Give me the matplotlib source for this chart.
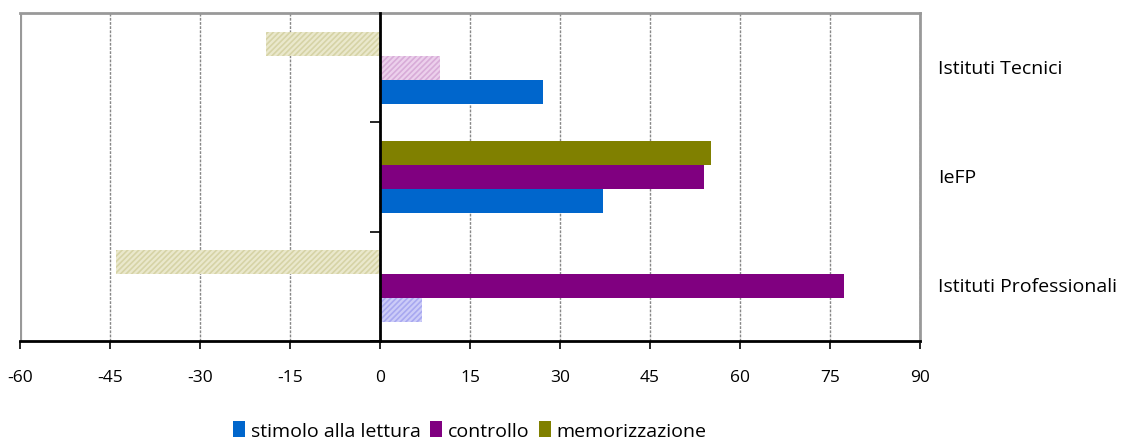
import matplotlib
matplotlib.use("Agg")
from matplotlib import pyplot as plt
from matplotlib.patches import Patch
from matplotlib.transforms import blended_transform_factory

plt.rcParams['font.family'] = ['Open Sans', 'DejaVu Sans']
plt.rcParams['hatch.linewidth'] = 1.2

categorie = ['Istituti Professionali', 'IeFP', 'Istituti Tecnici']
serie = ['stimolo alla lettura', 'controllo', 'memorizzazione']
stimolo = [7, 37.2, 27.2]
controllo = [77.3, 54, 10]
memorizzazione = [-44, 55.2, -19]
# True = valore pieno, False = barra tratteggiata chiara
pieno_stimolo = [False, True, True]
pieno_controllo = [True, True, False]
pieno_memo = [False, True, False]

colori = ['#0066cc', '#800080', '#808000']
chiari = ['#ccccf8', '#ecd0ec', '#eae8cc']
tratteggi = ['#a8a8f0', '#d8acd8', '#d6d3a6']

fig = plt.figure(figsize=(11.31, 4.39), dpi=100)
ax = fig.add_axes([20 / 1131, 97 / 439, 900 / 1131, 328 / 439])

valori = [stimolo, controllo, memorizzazione]
pieni = [pieno_stimolo, pieno_controllo, pieno_memo]
offset = [-0.22, 0, 0.22]
for s in range(3):
    for i in range(3):
        y = i + offset[s]
        if pieni[s][i]:
            ax.barh(y, valori[s][i], height=0.22, color=colori[s], linewidth=0, zorder=3)
        else:
            ax.barh(y, valori[s][i], height=0.22, facecolor=chiari[s],
                    edgecolor=tratteggi[s], hatch='//////', linewidth=0, zorder=3)

ax.set_xlim(-60, 90)
ax.set_ylim(-0.5, 2.5)
ax.set_xticks(range(-60, 91, 15))
ax.set_xticklabels([str(v) for v in range(-60, 91, 15)], fontsize=12.5)
ax.tick_params(axis='x', length=6, width=1.2, color='black', pad=14)
ax.xaxis.grid(True, color='#888888', linestyle=(0, (2, 1)), linewidth=1, zorder=0)

ax.spines['left'].set_position(('data', 0))
ax.spines['left'].set_color('black')
ax.spines['left'].set_linewidth(2)
ax.spines['left'].set_zorder(4)
ax.spines['bottom'].set_color('black')
ax.spines['bottom'].set_linewidth(2)
for lato in ['top', 'right']:
    ax.spines[lato].set_color('#999999')
    ax.spines[lato].set_linewidth(2)
# bordo sinistro dell'area del grafico
ax.axvline(-60, color='#999999', linewidth=3, zorder=2)

ax.set_yticks([-0.5, 0.5, 1.5, 2.5])
ax.set_yticklabels([])
ax.tick_params(axis='y', length=7, width=1.2, color='black', direction='out')

trans = blended_transform_factory(ax.transAxes, ax.transData)
for i, nome in enumerate(categorie):
    ax.text(1.02, i, nome, transform=trans, fontsize=14, va='center', ha='left')

maniglie = [Patch(facecolor=c, edgecolor='none') for c in colori]
ax.legend(maniglie, serie, loc='center', bbox_to_anchor=(0.5, -0.272), ncol=3,
          frameon=False, fontsize=14, handlelength=0.6, handleheight=0.9,
          handletextpad=0.3, columnspacing=0.5)

fig.savefig('out.png', dpi=100)
